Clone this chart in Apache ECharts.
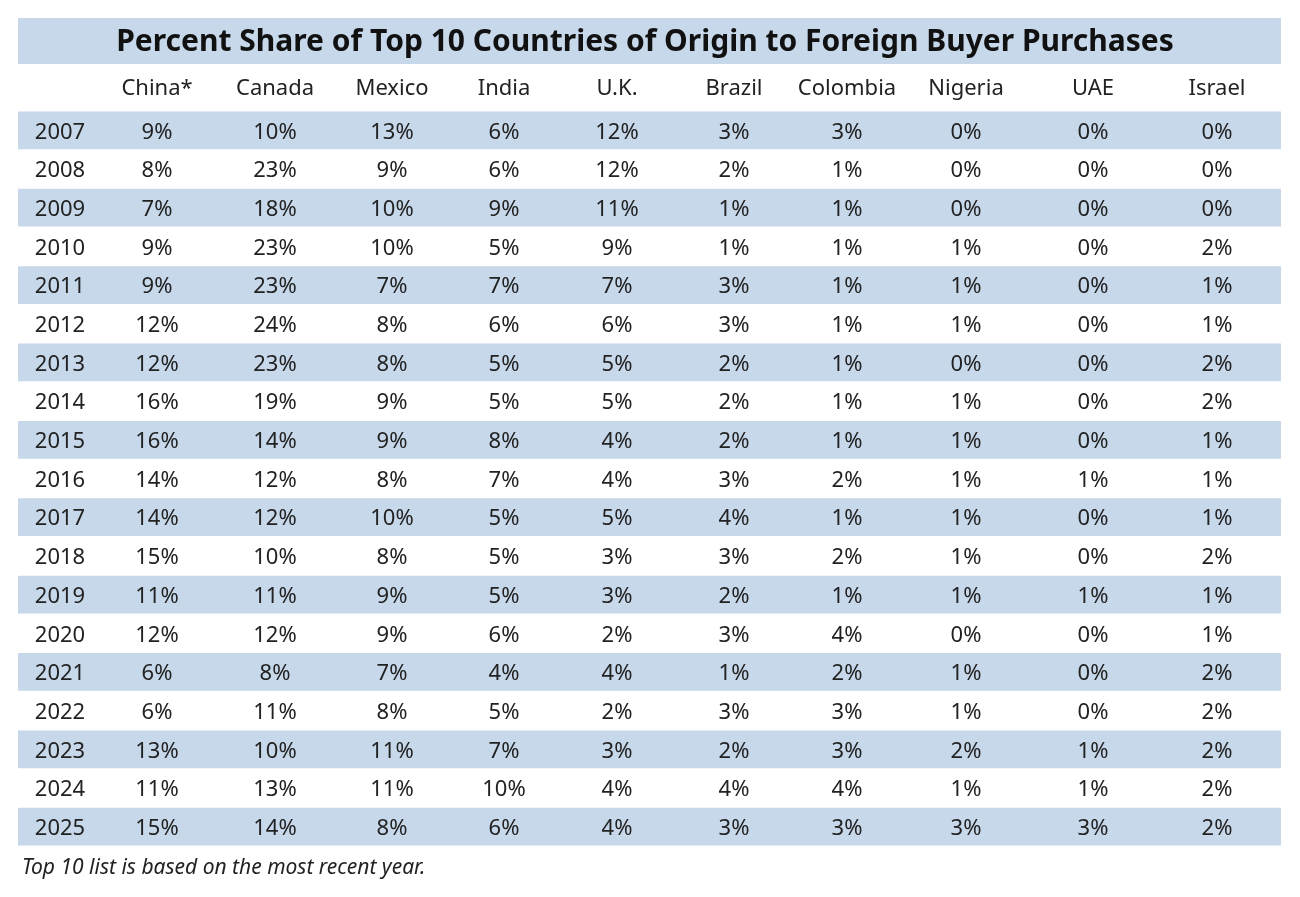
<!DOCTYPE html>
<html>
<head>
<meta charset="utf-8">
<script src="https://cdn.jsdelivr.net/npm/echarts@6/dist/echarts.min.js"></script>
<style>html,body{margin:0;padding:0;background:#fff}#main{width:1300px;height:897px}</style>
</head>
<body>
<div id="main"></div>
<script>
const years = ['2007','2008','2009','2010','2011','2012','2013','2014','2015','2016','2017','2018','2019','2020','2021','2022','2023','2024','2025'];
const countries = ['China*','Canada','Mexico','India','U.K.','Brazil','Colombia','Nigeria','UAE','Israel'];
const china    = [9,8,7,9,9,12,12,16,16,14,14,15,11,12,6,6,13,11,15];
const canada   = [10,23,18,23,23,24,23,19,14,12,12,10,11,12,8,11,10,13,14];
const mexico   = [13,9,10,10,7,8,8,9,9,8,10,8,9,9,7,8,11,11,8];
const india    = [6,6,9,5,7,6,5,5,8,7,5,5,5,6,4,5,7,10,6];
const uk       = [12,12,11,9,7,6,5,5,4,4,5,3,3,2,4,2,3,4,4];
const brazil   = [3,2,1,1,3,3,2,2,2,3,4,3,2,3,1,3,2,4,3];
const colombia = [3,1,1,1,1,1,1,1,1,2,1,2,1,4,2,3,3,4,3];
const nigeria  = [0,0,0,1,1,1,0,1,1,1,1,1,1,0,1,1,2,1,3];
const uae      = [0,0,0,0,0,0,0,0,0,1,0,0,1,0,0,0,1,1,3];
const israel   = [0,0,0,2,1,1,2,2,1,1,1,2,1,1,2,2,2,2,2];
const seriesCols = [china,canada,mexico,india,uk,brazil,colombia,nigeria,uae,israel];

// layout: pixel centres of the year column and each country column
const colX = [60,157,275,392,504,617,734,847,966,1093,1217];
const band = '#c6d8ea';
const font = '"Noto Sans", sans-serif';

const chart = echarts.init(document.getElementById('main'));
chart.setOption({
  animation: false,
  grid: {left: 18, right: 19, top: 111, bottom: 51},
  xAxis: {type: 'value', min: 0, max: 1, show: false},
  yAxis: {type: 'category', data: years, inverse: true, show: false},
  graphic: [
    {type: 'rect', shape: {x: 18, y: 18, width: 1263, height: 46}, style: {fill: band}},
    {type: 'text', x: 645, y: 42, style: {text: 'Percent Share of Top 10 Countries of Origin to Foreign Buyer Purchases',
      font: 'bold 30px ' + font, fill: '#111', align: 'center', verticalAlign: 'middle'}},
    ...countries.map((c, i) => ({type: 'text', x: colX[i + 1], y: 89,
      style: {text: c, font: '22px ' + font, fill: '#222', align: 'center', verticalAlign: 'middle'}})),
    {type: 'text', x: 22, y: 868, style: {text: 'Top 10 list is based on the most recent year.',
      font: 'italic 21px ' + font, fill: '#222', verticalAlign: 'middle'}}
  ],
  series: [{
    type: 'custom',
    data: years.map((y, i) => [0, i]),
    renderItem: function (params, api) {
      const i = api.value(1);
      const p = api.coord([0, i]);
      const h = api.size([0, 1])[1];
      const cs = params.coordSys;
      const children = [];
      if (i % 2 === 0) {
        children.push({type: 'rect', shape: {x: cs.x, y: p[1] - h / 2 + 0.5, width: cs.width, height: h - 1}, style: {fill: band}});
      }
      const cells = [years[i]].concat(seriesCols.map(s => s[i] + '%'));
      cells.forEach((t, k) => children.push({type: 'text', x: colX[k], y: p[1] + 2,
        style: {text: t, font: '22px ' + font, fill: '#222', align: 'center', verticalAlign: 'middle'}}));
      return {type: 'group', children: children};
    }
  }]
});
</script>
</body>
</html>
